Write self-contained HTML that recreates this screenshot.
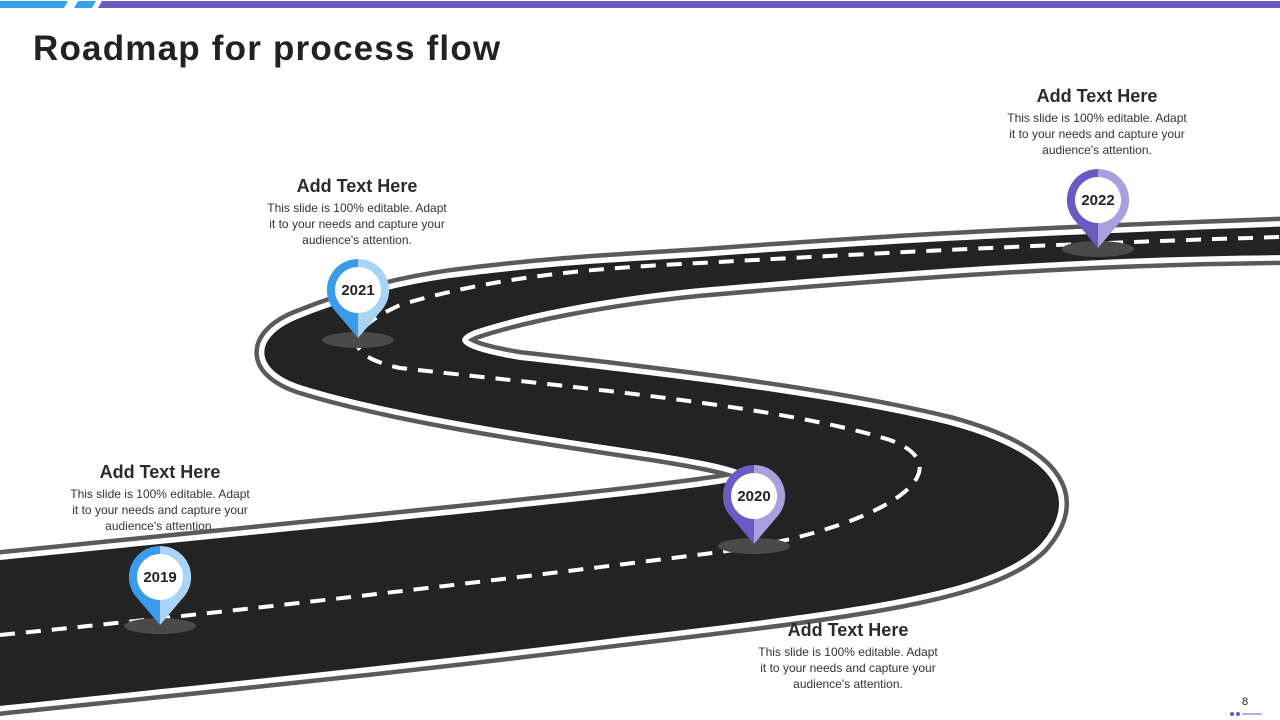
<!DOCTYPE html>
<html><head><meta charset="utf-8"><style>
body{margin:0;width:1280px;height:720px;overflow:hidden;background:#fff;font-family:"Liberation Sans",sans-serif;position:relative}
.t{position:absolute;text-align:center;width:240px;color:#333}
.t h3{margin:0 0 3px;font-size:18px;font-weight:bold;color:#2b2b2b}
.t p{margin:0;font-size:12px;line-height:16px;color:#333}
</style></head><body>
<svg width="1280" height="720" style="position:absolute;left:0;top:0">
<polygon points="0,1 68,1 64,8 0,8" fill="#3aa0e8"/>
<polygon points="78,1 96,1 92,8 74,8" fill="#3aa0e8"/>
<polygon points="102,1 1280,1 1280,8 98,8" fill="#6a5bbf"/>
<text x="33" y="60" font-size="35" font-weight="bold" fill="#222" letter-spacing="1.2" font-family="Liberation Sans">Roadmap for process flow</text>
<defs>
<path id="road" d="M-20,562 L200,540 C450,515 700,490 740,480 C760,472 720,463 650,452 C500,430 380,410 300,385 C250,368 255,335 300,318 C350,298 400,285 450,278 C550,265 620,262 700,257 C850,246 1000,236 1300,226 L1300,255 C1150,256 1000,262 700,288 C600,298 520,315 475,330 C450,340 460,350 520,360 C700,380 850,400 950,425 C1060,455 1080,500 1040,545 C990,595 850,610 600,640 C400,665 200,685 -20,708 Z"/>
</defs>
<use href="#road" fill="#222" stroke="#5a5a5a" stroke-width="20"/>
<use href="#road" fill="#222" stroke="#fff" stroke-width="11"/>
<use href="#road" fill="#232323"/>
<path d="M0,635 C250,610 500,580 720,552 C880,530 970,470 890,440 C780,405 550,385 400,368 C340,355 345,330 400,305 C500,275 600,268 700,263 C900,252 1050,244 1280,237" fill="none" stroke="#fff" stroke-width="4" stroke-dasharray="15 11"/>
<g>
<ellipse cx="160" cy="626" rx="36" ry="8" fill="#4a4a4a"/>
<ellipse cx="358" cy="340" rx="36" ry="8" fill="#4a4a4a"/>
<ellipse cx="754" cy="546" rx="36" ry="8" fill="#4a4a4a"/>
<ellipse cx="1098" cy="249" rx="36" ry="8" fill="#4a4a4a"/>
</g>
<g font-family="Liberation Sans" font-weight="bold" font-size="15" text-anchor="middle" fill="#222">
<g transform="translate(160,577)">
<path d="M0,-31 A31,31 0 0 0 -22,22 L0,48 Z" fill="#3a9be8"/><path d="M0,-31 A31,31 0 0 1 22,22 L0,48 Z" fill="#a9d4f5"/>
<circle r="23" fill="#fff"/><text y="5">2019</text></g>
<g transform="translate(358,290)">
<path d="M0,-31 A31,31 0 0 0 -22,22 L0,48 Z" fill="#3a9be8"/><path d="M0,-31 A31,31 0 0 1 22,22 L0,48 Z" fill="#a9d4f5"/>
<circle r="23" fill="#fff"/><text y="5">2021</text></g>
<g transform="translate(754,496)">
<path d="M0,-31 A31,31 0 0 0 -22,22 L0,48 Z" fill="#6a5bc2"/><path d="M0,-31 A31,31 0 0 1 22,22 L0,48 Z" fill="#aaa0e0"/>
<circle r="23" fill="#fff"/><text y="5">2020</text></g>
<g transform="translate(1098,200)">
<path d="M0,-31 A31,31 0 0 0 -22,22 L0,48 Z" fill="#6a5bc2"/><path d="M0,-31 A31,31 0 0 1 22,22 L0,48 Z" fill="#aaa0e0"/>
<circle r="23" fill="#fff"/><text y="5">2022</text></g>
</g>
<text x="1245" y="705" font-size="11" fill="#222" text-anchor="middle" font-family="Liberation Sans">8</text>
<circle cx="1232" cy="714" r="2" fill="#6a5bc2"/><circle cx="1238" cy="714" r="2" fill="#6a5bc2"/>
<line x1="1242" y1="714" x2="1262" y2="714" stroke="#6a5bc2" stroke-width="1"/>
</svg>
<div class="t" style="left:40px;top:462px"><h3>Add Text Here</h3><p>This slide is 100% editable. Adapt<br>it to your needs and capture your<br>audience's attention.</p></div>
<div class="t" style="left:237px;top:176px"><h3>Add Text Here</h3><p>This slide is 100% editable. Adapt<br>it to your needs and capture your<br>audience's attention.</p></div>
<div class="t" style="left:728px;top:620px"><h3>Add Text Here</h3><p>This slide is 100% editable. Adapt<br>it to your needs and capture your<br>audience's attention.</p></div>
<div class="t" style="left:977px;top:86px"><h3>Add Text Here</h3><p>This slide is 100% editable. Adapt<br>it to your needs and capture your<br>audience's attention.</p></div>
</body></html>
